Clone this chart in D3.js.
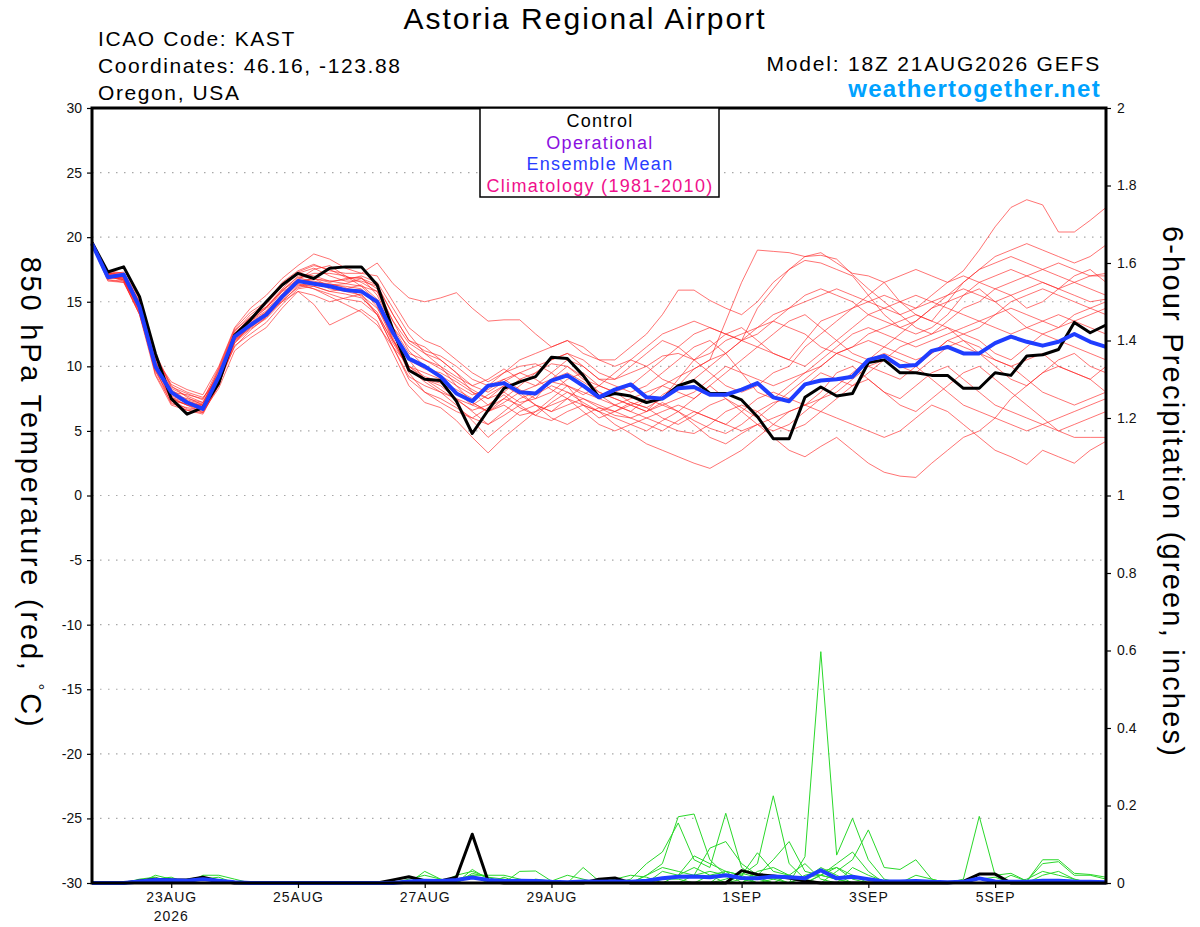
<!DOCTYPE html>
<html>
<head>
<meta charset="utf-8">
<script src="https://cdn.jsdelivr.net/npm/d3@7"></script>
<style>
  body { margin: 0; background: #fff; }
  svg { display: block; font-family: "Liberation Sans", Arial, sans-serif; }
</style>
</head>
<body>
<svg id="chart" width="1200" height="927"></svg>
<script>
// GEFS run 18Z 21AUG2026, one value every 6 hours (65 steps = 16 days)
const startTime = Date.UTC(2026, 7, 21, 18);
const stepCount = 65;

const dateTicks = ["2026-08-23", "2026-08-25", "2026-08-27", "2026-08-29", "2026-09-01", "2026-09-03", "2026-09-05"];
const dateLabels = ["23AUG", "25AUG", "27AUG", "29AUG", "1SEP", "3SEP", "5SEP"];
const tempTicks = [-30, -25, -20, -15, -10, -5, 0, 5, 10, 15, 20, 25, 30];
const precipTicks = [0, 0.2, 0.4, 0.6, 0.8, 1, 1.2, 1.4, 1.6, 1.8, 2];

// 850 hPa temperature (C)
const controlTemp = [19.6, 17.3, 17.7, 15.4, 11.0, 7.5, 6.3, 6.8, 8.7, 12.4, 13.6, 15.0, 16.3, 17.2, 16.8, 17.6, 17.7, 17.7, 16.3, 12.8,
  9.7, 9.0, 8.9, 7.3, 4.8, 6.6, 8.3, 8.8, 9.2, 10.7, 10.6, 9.3, 7.6, 7.9, 7.7, 7.2, 7.5, 8.5, 8.9, 7.9,
  7.9, 7.4, 6.1, 4.4, 4.4, 7.6, 8.4, 7.7, 7.9, 10.3, 10.5, 9.5, 9.5, 9.3, 9.3, 8.3, 8.3, 9.5, 9.3, 10.8,
  10.9, 11.3, 13.4, 12.6, 13.2];
const meanTemp = [19.5, 16.9, 17.1, 14.6, 10.0, 8.0, 7.2, 6.7, 9.2, 12.3, 13.2, 14.0, 15.4, 16.6, 16.4, 16.2, 15.9, 15.8, 15.0, 12.6,
  10.6, 10.0, 9.2, 7.9, 7.3, 8.5, 8.7, 8.0, 7.9, 8.9, 9.3, 8.5, 7.6, 8.2, 8.6, 7.6, 7.5, 8.3, 8.4, 7.8,
  7.8, 8.2, 8.7, 7.6, 7.3, 8.6, 8.9, 9.0, 9.2, 10.5, 10.8, 10.0, 10.1, 11.2, 11.5, 11.0, 11.0, 11.8, 12.3, 11.9,
  11.6, 11.9, 12.5, 11.9, 11.5];
const memberTemp = [
  [19.7, 17.2, 17.0, 14.8, 10.5, 7.3, 7.1, 7.0, 9.0, 12.5, 13.5, 14.3, 15.8, 17.0, 16.8, 16.5, 16.8, 16.9, 15.5, 13.0, 11.5, 10.5,
   9.8, 9.0, 8.2, 7.5, 8.0, 7.2, 7.5, 9.0, 10.0, 9.2, 8.0, 7.5, 7.0, 6.5, 7.8, 8.5, 9.8, 10.5, 11.0, 12.0, 14.5, 16.0,
   17.5, 18.5, 18.8, 18.0, 17.2, 17.0, 16.5, 15.0, 14.0, 13.5, 15.0, 16.5, 17.5, 18.5, 19.0, 19.5, 19.0, 18.5, 18.0, 18.5, 19.4],
  [19.5, 16.8, 16.9, 14.5, 10.2, 7.8, 7.5, 7.2, 9.4, 12.0, 13.0, 14.0, 15.5, 16.7, 17.5, 17.8, 17.0, 16.2, 15.0, 12.0, 10.0, 9.5,
   9.0, 8.0, 7.0, 6.5, 7.5, 8.5, 9.5, 10.2, 10.0, 9.0, 8.5, 8.0, 7.2, 6.8, 7.5, 9.0, 10.5, 11.5, 12.5, 13.0, 12.0, 11.0,
   10.5, 12.0, 13.5, 14.0, 14.5, 15.5, 16.5, 17.0, 17.5, 17.0, 16.5, 17.4, 19.0, 20.8, 22.3, 22.9, 22.5, 20.4, 20.4, 21.3, 22.3],
  [19.6, 17.0, 16.6, 14.0, 9.8, 7.1, 6.8, 6.6, 8.8, 11.8, 13.2, 14.2, 15.0, 15.8, 15.5, 15.0, 15.3, 15.6, 14.0, 11.5, 9.0, 8.0,
   7.5, 6.8, 6.0, 5.5, 6.2, 7.0, 7.8, 8.5, 8.0, 7.2, 6.5, 6.0, 5.5, 5.0, 5.8, 6.5, 5.5, 4.5, 4.0, 4.8, 5.5, 4.5,
   3.5, 3.0, 3.8, 4.5, 3.5, 2.5, 1.8, 1.5, 1.4, 2.5, 3.5, 4.5, 5.0, 6.0, 7.5, 8.5, 9.5, 10.0, 9.5, 9.0, 10.0],
  [19.6, 17.4, 17.2, 15.0, 11.0, 8.5, 7.6, 7.0, 9.8, 12.8, 13.8, 14.6, 16.0, 17.2, 17.0, 16.6, 16.4, 16.2, 15.8, 13.5, 11.8, 11.0,
   10.5, 9.5, 8.5, 8.0, 8.8, 9.5, 9.0, 8.2, 7.5, 7.0, 6.5, 7.0, 7.5, 8.0, 8.5, 9.2, 9.8, 10.5, 13.5, 16.5, 19.0, 18.9,
   18.8, 18.5, 18.6, 18.3, 17.1, 16.0, 15.0, 14.0, 13.0, 12.5, 13.5, 14.5, 15.0, 16.0, 15.5, 14.5, 15.0, 16.0, 17.0, 17.5, 16.5],
  [19.4, 16.6, 16.5, 14.2, 10.6, 8.8, 8.2, 7.8, 10.0, 13.0, 14.5, 15.5, 16.8, 17.8, 18.7, 18.3, 17.6, 17.2, 18.0, 16.4, 15.3, 15.0,
   15.3, 15.7, 14.5, 13.5, 13.6, 13.6, 12.5, 11.5, 12.0, 11.0, 10.5, 10.5, 11.5, 12.5, 14.0, 15.9, 15.9, 15.1, 14.5, 14.0, 15.0, 16.5,
   17.5, 18.2, 18.0, 17.5, 17.0, 15.5, 14.0, 13.0, 12.5, 13.0, 14.0, 15.5, 16.5, 17.0, 17.5, 17.0, 16.5, 16.0, 16.5, 17.0, 17.0],
  [19.5, 17.0, 16.8, 14.6, 10.0, 7.5, 7.0, 6.4, 8.5, 12.2, 13.5, 14.5, 15.9, 16.9, 16.5, 16.0, 15.8, 15.5, 14.5, 12.5, 10.0, 9.0,
   8.5, 7.5, 6.5, 5.5, 6.5, 7.5, 8.0, 8.8, 8.5, 7.0, 6.0, 6.5, 7.2, 6.8, 6.0, 5.5, 6.2, 7.0, 7.5, 6.8, 6.0, 7.0,
   8.0, 9.0, 10.0, 11.0, 10.5, 10.0, 9.5, 9.0, 10.0, 11.0, 12.0, 12.5, 12.0, 11.0, 10.5, 11.5, 12.5, 13.0, 14.0, 14.5, 15.0],
  [19.6, 17.1, 17.3, 15.2, 10.8, 8.0, 7.3, 6.9, 9.2, 12.5, 13.8, 14.8, 16.2, 17.2, 17.6, 17.0, 16.6, 16.6, 16.2, 14.0, 12.0, 11.5,
   10.5, 9.5, 8.0, 7.0, 8.0, 9.0, 9.5, 10.5, 11.0, 10.0, 9.0, 9.0, 10.0, 11.0, 12.0, 11.5, 10.5, 9.5, 8.5, 8.0, 8.5, 9.5,
   10.0, 11.5, 12.5, 13.5, 14.5, 15.0, 15.5, 15.0, 14.5, 15.5, 16.5, 17.0, 16.5, 16.0, 16.5, 17.0, 17.5, 18.0, 17.5, 17.0, 17.2],
  [19.7, 16.9, 16.7, 14.4, 9.4, 7.2, 6.6, 6.3, 8.6, 11.6, 12.5, 13.4, 14.8, 16.0, 16.2, 15.8, 16.0, 16.3, 15.2, 12.8, 10.5, 9.0,
   8.2, 7.4, 6.6, 7.0, 7.8, 6.8, 6.2, 7.2, 8.0, 7.5, 6.8, 6.2, 6.0, 6.5, 7.2, 6.5, 5.8, 5.2, 4.8, 5.5, 6.5, 7.2,
   7.5, 8.5, 9.5, 9.0, 8.5, 9.5, 10.5, 11.5, 12.0, 12.5, 13.0, 12.0, 11.0, 10.0, 9.0, 8.5, 9.5, 10.5, 11.0, 10.0, 9.5],
  [19.4, 16.7, 16.6, 14.1, 9.6, 7.4, 6.7, 6.5, 8.3, 11.2, 12.2, 13.0, 14.5, 15.8, 14.8, 13.2, 13.8, 14.4, 13.5, 11.0, 8.5, 7.2,
   6.8, 5.8, 4.5, 3.3, 4.5, 5.5, 6.5, 7.0, 7.5, 6.5, 5.5, 5.0, 5.5, 6.0, 5.5, 5.0, 4.8, 5.5, 6.5, 7.0, 6.5, 5.5,
   5.0, 5.5, 6.5, 7.5, 8.5, 9.0, 8.0, 7.0, 6.5, 7.5, 8.5, 9.5, 10.0, 9.0, 8.0, 7.0, 6.0, 5.0, 5.5, 6.0, 6.5],
  [19.5, 17.2, 17.1, 14.9, 10.4, 8.2, 7.4, 7.1, 9.6, 12.6, 13.7, 14.6, 15.8, 16.4, 16.0, 15.4, 14.8, 14.2, 13.2, 11.5, 10.0, 9.2,
   8.8, 8.2, 7.5, 8.5, 9.5, 10.0, 10.2, 9.5, 8.5, 7.8, 8.5, 9.5, 10.5, 10.0, 9.0, 8.5, 9.0, 10.0, 11.0, 12.0, 13.0, 13.5,
   13.0, 12.5, 11.5, 11.0, 11.5, 12.5, 13.0, 13.5, 14.0, 13.5, 13.0, 12.5, 13.0, 14.0, 15.0, 15.5, 16.0, 15.5, 15.0, 14.5, 14.0],
  [19.6, 16.9, 16.9, 14.6, 10.1, 7.6, 7.0, 6.7, 8.9, 12.0, 13.1, 13.9, 15.3, 16.6, 16.8, 16.2, 16.0, 15.9, 14.8, 12.2, 9.5, 8.0,
   7.2, 6.5, 6.0, 6.8, 7.5, 7.0, 6.2, 5.8, 6.5, 7.0, 6.5, 5.5, 4.8, 4.0, 3.5, 3.0, 2.5, 2.1, 2.8, 3.5, 4.5, 5.5,
   6.5, 7.0, 7.5, 8.0, 9.0, 10.0, 10.5, 10.0, 9.5, 10.5, 11.5, 12.0, 11.5, 10.5, 10.0, 9.0, 8.0, 7.5, 7.0, 7.5, 8.0],
  [19.5, 17.1, 16.9, 14.7, 10.3, 8.0, 7.8, 7.5, 9.4, 12.3, 13.4, 14.2, 15.6, 16.8, 17.2, 17.2, 17.0, 16.5, 15.8, 13.0, 11.0, 10.5,
   10.0, 9.2, 8.5, 9.0, 9.8, 9.0, 8.5, 9.5, 10.5, 10.0, 9.0, 8.5, 8.0, 8.5, 9.5, 10.5, 11.5, 12.0, 11.0, 9.5, 8.0, 7.5,
   8.5, 9.5, 10.5, 11.5, 12.5, 13.0, 12.5, 12.0, 11.5, 12.0, 12.5, 13.0, 13.5, 14.0, 14.5, 14.0, 13.5, 13.0, 13.5, 14.0, 14.5],
  [19.6, 17.0, 16.7, 14.3, 9.9, 7.7, 7.3, 7.0, 9.1, 12.1, 13.3, 14.1, 15.4, 16.5, 16.8, 16.6, 16.7, 17.0, 16.5, 14.5, 12.5, 11.0,
   10.0, 8.5, 7.2, 6.5, 7.0, 6.2, 6.5, 7.5, 8.5, 8.0, 7.5, 7.0, 6.5, 7.5, 8.5, 8.0, 7.5, 8.5, 9.5, 10.5, 11.5, 12.5,
   13.5, 14.0, 13.0, 12.0, 11.0, 10.5, 11.5, 12.5, 13.5, 14.5, 15.0, 15.5, 16.0, 15.0, 14.0, 13.0, 12.5, 12.0, 11.5, 11.0, 10.5],
  [19.5, 16.8, 17.0, 14.7, 10.6, 8.6, 8.0, 7.6, 9.0, 11.5, 12.8, 13.8, 15.2, 16.3, 16.0, 15.6, 15.2, 15.0, 14.0, 12.0, 10.5, 9.8,
   9.5, 8.8, 8.0, 7.5, 8.5, 8.0, 7.0, 6.5, 7.5, 8.5, 7.8, 7.0, 6.5, 6.0, 6.5, 7.0, 6.5, 6.0, 5.5, 6.5, 7.5, 8.0,
   7.5, 7.0, 8.0, 9.5, 10.0, 9.0, 8.0, 7.5, 8.5, 9.5, 10.0, 9.0, 8.0, 7.0, 6.5, 6.0, 5.5, 5.0, 4.5, 4.5, 4.5],
  [19.7, 17.3, 17.2, 15.0, 10.9, 8.4, 7.9, 7.4, 9.9, 12.9, 14.2, 15.0, 16.5, 17.4, 17.9, 17.4, 17.2, 17.2, 17.0, 15.0, 13.0, 12.0,
   11.5, 10.5, 9.5, 8.8, 9.5, 10.5, 11.0, 11.5, 12.0, 11.5, 10.5, 10.0, 10.5, 11.5, 12.5, 13.0, 13.5, 13.0, 12.5, 12.0, 12.5, 13.5,
   14.5, 15.0, 15.5, 16.0, 15.5, 15.0, 14.5, 14.0, 14.5, 15.0, 15.5, 16.0, 15.5, 15.0, 15.5, 16.0, 16.5, 16.0, 15.5, 15.0, 15.2],
  [19.4, 16.7, 16.5, 14.0, 9.3, 7.0, 6.6, 6.4, 8.6, 11.9, 13.0, 13.8, 15.1, 16.1, 16.4, 16.3, 16.2, 16.0, 14.6, 12.0, 9.8, 8.8,
   8.0, 7.0, 5.8, 4.5, 5.5, 6.5, 7.0, 6.0, 5.5, 6.2, 6.8, 6.5, 6.0, 5.5, 5.0, 5.8, 6.5, 6.0, 5.5, 5.0, 5.5, 6.0,
   6.5, 7.0, 6.5, 6.0, 5.5, 5.0, 4.5, 5.0, 6.0, 7.0, 6.5, 5.5, 4.5, 3.5, 3.0, 2.4, 3.5, 3.0, 2.5, 3.5, 4.2],
  [19.6, 17.1, 17.0, 14.5, 10.2, 7.9, 7.2, 6.9, 9.3, 12.4, 13.6, 14.5, 15.9, 16.7, 16.6, 16.3, 16.4, 16.8, 16.0, 13.5, 11.2, 10.0,
   9.3, 8.5, 7.8, 8.2, 9.0, 9.5, 10.0, 10.5, 11.0, 10.5, 9.5, 9.0, 9.5, 10.0, 10.8, 11.0, 10.5, 11.0, 12.0, 12.5, 13.0, 14.0,
   14.5, 15.5, 16.0, 15.5, 15.0, 14.0, 13.5, 13.0, 13.5, 14.5, 15.5, 16.5, 17.5, 18.0, 18.5, 18.0, 17.5, 17.0, 16.5, 16.0, 15.5],
  [19.5, 16.9, 16.8, 14.3, 9.7, 7.5, 7.0, 6.6, 8.7, 11.8, 12.9, 13.7, 15.0, 16.2, 16.5, 16.4, 16.1, 15.4, 14.0, 11.5, 9.2, 8.5,
   8.0, 7.5, 7.0, 7.8, 8.5, 7.8, 7.0, 6.5, 7.0, 7.5, 7.0, 6.5, 7.0, 7.5, 7.0, 6.5, 7.5, 8.5, 7.5, 6.5, 5.5, 5.0,
   5.5, 6.5, 7.5, 8.5, 9.5, 10.5, 11.0, 10.5, 10.0, 9.0, 8.0, 7.0, 6.5, 6.0, 5.5, 5.0, 5.5, 6.0, 6.5, 7.0, 7.5],
  [19.6, 17.2, 17.1, 14.9, 10.7, 8.3, 7.7, 7.2, 9.7, 12.7, 14.0, 14.9, 16.4, 17.3, 17.8, 17.5, 16.9, 16.8, 16.3, 14.0, 12.0, 11.2,
   10.8, 10.0, 9.0, 8.5, 9.0, 8.2, 7.5, 8.0, 9.0, 9.5, 8.5, 8.0, 8.5, 9.5, 10.5, 11.5, 12.5, 13.0, 12.5, 12.0, 11.5, 11.0,
   10.5, 10.0, 11.0, 12.0, 13.0, 14.0, 14.5, 15.0, 15.5, 15.0, 14.5, 14.0, 13.5, 13.0, 12.5, 13.0, 13.5, 14.0, 13.5, 13.0, 12.5],
  [19.5, 17.0, 16.7, 14.4, 10.0, 7.6, 7.2, 6.8, 8.9, 12.0, 13.2, 14.0, 15.3, 16.4, 16.2, 15.8, 15.6, 15.3, 14.2, 11.8, 9.8, 9.0,
   8.7, 8.0, 7.2, 6.5, 7.2, 8.0, 8.5, 9.0, 9.5, 8.8, 8.0, 7.5, 7.0, 6.5, 7.0, 7.5, 8.0, 9.0, 10.0, 9.5, 9.0, 8.5,
   9.0, 9.5, 10.0, 11.0, 11.5, 12.0, 11.5, 11.0, 10.5, 11.0, 12.0, 11.5, 11.0, 10.5, 10.0, 10.5, 11.0, 10.0, 9.5, 9.0, 8.0]
];

// 6-hour precipitation (inches), only the non-zero steps as [step, value]
const controlPrecip = [[3, 0.005], [4, 0.01], [5, 0.008], [6, 0.008], [7, 0.015], [8, 0.005], [19, 0.008], [20, 0.016], [21, 0.006],
  [22, 0.005], [23, 0.015], [24, 0.126], [25, 0.005], [32, 0.01], [33, 0.013], [41, 0.032], [42, 0.022], [43, 0.018],
  [44, 0.013], [45, 0.005], [55, 0.004], [56, 0.023], [57, 0.023]];
const meanPrecip = [[3, 0.004], [4, 0.008], [5, 0.007], [6, 0.006], [7, 0.01], [8, 0.006], [9, 0.002], [20, 0.004], [21, 0.006],
  [22, 0.005], [23, 0.008], [24, 0.014], [25, 0.008], [26, 0.005], [27, 0.006], [28, 0.005], [29, 0.003], [30, 0.002],
  [31, 0.004], [32, 0.003], [33, 0.004], [34, 0.003], [35, 0.006], [36, 0.012], [37, 0.016], [38, 0.017], [39, 0.015],
  [40, 0.02], [41, 0.013], [42, 0.012], [43, 0.017], [44, 0.015], [45, 0.012], [46, 0.033], [47, 0.012], [48, 0.016],
  [49, 0.01], [50, 0.004], [51, 0.004], [52, 0.005], [53, 0.003], [54, 0.002], [55, 0.003], [56, 0.012], [57, 0.004],
  [58, 0.003], [59, 0.003], [60, 0.006], [61, 0.006], [62, 0.004], [63, 0.003], [64, 0.002]];
const memberPrecip = [
  [[4, 0.02], [5, 0.01], [7, 0.02], [8, 0.02], [9, 0.01], [21, 0.03], [22, 0.01], [24, 0.035], [25, 0.01]],
  [[3, 0.01], [4, 0.015], [6, 0.01], [7, 0.015], [23, 0.02], [24, 0.03], [25, 0.015], [27, 0.03], [28, 0.031], [29, 0.005]],
  [[24, 0.02], [26, 0.015], [31, 0.04], [32, 0.005], [35, 0.02], [36, 0.05], [37, 0.171], [38, 0.178], [39, 0.06], [40, 0.02], [41, 0.01]],
  [[34, 0.01], [35, 0.05], [36, 0.08], [37, 0.155], [38, 0.06], [39, 0.04], [40, 0.18], [41, 0.04], [42, 0.01], [46, 0.02], [47, 0.01]],
  [[38, 0.02], [39, 0.09], [40, 0.107], [41, 0.05], [42, 0.02], [43, 0.01], [45, 0.068], [46, 0.597], [47, 0.072], [48, 0.167], [49, 0.06], [50, 0.01]],
  [[40, 0.03], [41, 0.02], [42, 0.078], [43, 0.03], [44, 0.02], [47, 0.03], [48, 0.06], [49, 0.137], [50, 0.04], [51, 0.035], [52, 0.06], [53, 0.01]],
  [[41, 0.02], [42, 0.05], [43, 0.225], [44, 0.05], [45, 0.01], [46, 0.04], [47, 0.02]],
  [[42, 0.02], [43, 0.06], [44, 0.107], [45, 0.03], [46, 0.02], [47, 0.05], [48, 0.08], [49, 0.03]],
  [[35, 0.02], [36, 0.04], [37, 0.03], [38, 0.02], [39, 0.03], [40, 0.02], [41, 0.015]],
  [[55, 0.01], [56, 0.172], [57, 0.02], [58, 0.025], [59, 0.005], [60, 0.06], [61, 0.06], [62, 0.025], [63, 0.022], [64, 0.015]],
  [[58, 0.02], [59, 0.005], [60, 0.05], [61, 0.055], [62, 0.02], [63, 0.02], [64, 0.01]],
  [[36, 0.03], [37, 0.02], [38, 0.07], [39, 0.05], [40, 0.03], [45, 0.02], [46, 0.03], [47, 0.04], [48, 0.02]],
  [[44, 0.02], [45, 0.05], [46, 0.01], [48, 0.04], [49, 0.02], [50, 0.005]],
  [[20, 0.01], [21, 0.02], [22, 0.01], [24, 0.025], [25, 0.015], [26, 0.01]],
  [[4, 0.01], [5, 0.015], [7, 0.01], [8, 0.015], [28, 0.01], [29, 0.005], [30, 0.02], [31, 0.01]],
  [[33, 0.01], [34, 0.02], [35, 0.015], [37, 0.02], [38, 0.04], [39, 0.02], [42, 0.03], [43, 0.04], [44, 0.02]],
  [[39, 0.02], [40, 0.03], [41, 0.02], [43, 0.01], [44, 0.02], [45, 0.01], [52, 0.02], [53, 0.01]],
  [[46, 0.02], [47, 0.04], [48, 0.01], [56, 0.01], [57, 0.015], [60, 0.02], [61, 0.03], [62, 0.01]],
  [[23, 0.01], [24, 0.02], [25, 0.02], [26, 0.02], [27, 0.01], [36, 0.01], [37, 0.01], [41, 0.01], [42, 0.02], [43, 0.015]],
  [[40, 0.01], [41, 0.025], [42, 0.015], [45, 0.015], [46, 0.02], [47, 0.01], [59, 0.01], [60, 0.03], [61, 0.02], [62, 0.01]]
];

// fill the dry steps with zero
function expand(pairs) {
  const out = new Array(stepCount).fill(0);
  pairs.forEach(([i, v]) => { out[i] = v; });
  return out;
}

const svg = d3.select("#chart");
const plotLeft = 92, plotRight = 1106, plotTop = 108, plotBottom = 883;
const font = "Liberation Sans, Arial, sans-serif";

const stepTime = (i) => new Date(startTime + i * 6 * 3600 * 1000);
const x = d3.scaleUtc().domain([stepTime(0), stepTime(stepCount - 1)]).range([plotLeft, plotRight]);
const yTemp = d3.scaleLinear().domain([-30, 30]).range([plotBottom, plotTop]);
const yPrecip = d3.scaleLinear().domain([0, 2]).range([plotBottom, plotTop]);

// dotted grid on the temperature ticks
svg.append("g")
  .selectAll("line")
  .data(tempTicks.slice(1, -1))
  .enter()
  .append("line")
  .attr("x1", plotLeft)
  .attr("x2", plotRight)
  .attr("y1", (d) => yTemp(d))
  .attr("y2", (d) => yTemp(d))
  .attr("stroke", "#a8a8a8")
  .attr("stroke-width", 1.2)
  .attr("stroke-dasharray", "1.5,6.5");

const tempLine = d3.line().x((d, i) => x(stepTime(i))).y((d) => yTemp(d));
const precipLine = d3.line().x((d, i) => x(stepTime(i))).y((d) => yPrecip(d));

// ensemble members
svg.append("g")
  .selectAll("path")
  .data(memberTemp)
  .enter()
  .append("path")
  .attr("d", tempLine)
  .attr("fill", "none")
  .attr("stroke", "#ff2020")
  .attr("stroke-opacity", 0.7)
  .attr("stroke-width", 0.9);

svg.append("g")
  .selectAll("path")
  .data(memberPrecip.map(expand))
  .enter()
  .append("path")
  .attr("d", precipLine)
  .attr("fill", "none")
  .attr("stroke", "#2ad82a")
  .attr("stroke-width", 1);

// control and ensemble mean on top
svg.append("path").attr("d", tempLine(controlTemp))
  .attr("fill", "none").attr("stroke", "#000").attr("stroke-width", 3).attr("stroke-linejoin", "round");
svg.append("path").attr("d", tempLine(meanTemp))
  .attr("fill", "none").attr("stroke", "#1f3dff").attr("stroke-width", 4).attr("stroke-linejoin", "round");
svg.append("path").attr("d", precipLine(expand(controlPrecip)))
  .attr("fill", "none").attr("stroke", "#000").attr("stroke-width", 3).attr("stroke-linejoin", "round");
svg.append("path").attr("d", precipLine(expand(meanPrecip)))
  .attr("fill", "none").attr("stroke", "#1f3dff").attr("stroke-width", 4).attr("stroke-linejoin", "round");

// axes
const leftAxis = svg.append("g")
  .attr("transform", "translate(" + plotLeft + ",0)")
  .call(d3.axisLeft(yTemp).tickValues(tempTicks).tickSize(5).tickPadding(5).tickFormat((d) => String(d)));
const rightAxis = svg.append("g")
  .attr("transform", "translate(" + plotRight + ",0)")
  .call(d3.axisRight(yPrecip).tickValues(precipTicks).tickSize(5).tickPadding(6).tickFormat((d) => String(+d.toFixed(1))));
const bottomAxis = svg.append("g")
  .attr("transform", "translate(0," + plotBottom + ")")
  .call(d3.axisBottom(x).tickValues(dateTicks.map((d) => new Date(d + "T00:00:00Z"))).tickSize(5).tickPadding(4)
    .tickFormat((d, i) => dateLabels[i]));

[leftAxis, rightAxis, bottomAxis].forEach((g) => {
  g.select(".domain").remove();
  g.attr("font-family", font).attr("font-size", 14);
  g.selectAll("line").attr("stroke", "#000").attr("stroke-width", 1.2);
  g.selectAll("text").attr("fill", "#111");
});
bottomAxis.selectAll("text").attr("letter-spacing", 1);

// year under the first date
svg.append("text")
  .attr("x", x(new Date(dateTicks[0] + "T00:00:00Z")))
  .attr("y", 921)
  .attr("text-anchor", "middle")
  .attr("font-family", font)
  .attr("font-size", 14)
  .attr("letter-spacing", 1)
  .attr("fill", "#111")
  .text("2026");

// plot frame
svg.append("rect")
  .attr("x", plotLeft).attr("y", plotTop)
  .attr("width", plotRight - plotLeft).attr("height", plotBottom - plotTop)
  .attr("fill", "none").attr("stroke", "#000").attr("stroke-width", 3);

// legend box
const legendItems = [
  ["Control", "#000"],
  ["Operational", "#8a10e0"],
  ["Ensemble Mean", "#2a3cff"],
  ["Climatology (1981-2010)", "#f0108c"]
];
svg.append("rect")
  .attr("x", 480).attr("y", plotTop)
  .attr("width", 239).attr("height", 89)
  .attr("fill", "#fff").attr("stroke", "#000").attr("stroke-width", 1.5);
svg.append("g")
  .selectAll("text")
  .data(legendItems)
  .enter()
  .append("text")
  .attr("x", 600)
  .attr("y", (d, i) => 127 + i * 21.7)
  .attr("text-anchor", "middle")
  .attr("font-family", font)
  .attr("font-size", 18)
  .attr("letter-spacing", 1.3)
  .attr("fill", (d) => d[1])
  .text((d) => d[0]);

// header texts
svg.append("text")
  .attr("x", 585).attr("y", 29)
  .attr("text-anchor", "middle")
  .attr("font-family", font).attr("font-size", 30).attr("letter-spacing", 2)
  .text("Astoria Regional Airport");

const infoLines = ["ICAO Code: KAST", "Coordinates: 46.16, -123.88", "Oregon, USA"];
svg.append("g")
  .selectAll("text")
  .data(infoLines)
  .enter()
  .append("text")
  .attr("x", 98)
  .attr("y", (d, i) => 46 + i * 27)
  .attr("font-family", font).attr("font-size", 21).attr("letter-spacing", 1.6)
  .text((d) => d);

svg.append("text")
  .attr("x", 1101).attr("y", 71)
  .attr("text-anchor", "end")
  .attr("font-family", font).attr("font-size", 21).attr("letter-spacing", 1.8)
  .text("Model: 18Z 21AUG2026 GEFS");
svg.append("text")
  .attr("x", 1101).attr("y", 97)
  .attr("text-anchor", "end")
  .attr("font-family", font).attr("font-size", 24).attr("font-weight", "bold").attr("letter-spacing", 1.3)
  .attr("fill", "#00a2ff")
  .text("weathertogether.net");

// axis titles, both read top to bottom
const leftTitle = svg.append("text")
  .attr("transform", "translate(21,493) rotate(90)")
  .attr("text-anchor", "middle")
  .attr("font-family", font).attr("font-size", 29).attr("letter-spacing", 2.8);
leftTitle.append("tspan").text("850 hPa Temperature (red, ");
leftTitle.append("tspan").attr("font-size", 17).attr("dy", -11).text("°");
leftTitle.append("tspan").attr("dy", 11).text("C)");

svg.append("text")
  .attr("transform", "translate(1163,492) rotate(90)")
  .attr("text-anchor", "middle")
  .attr("font-family", font).attr("font-size", 29).attr("letter-spacing", 2.2)
  .text("6-hour Precipitation (green, inches)");
</script>
</body>
</html>
